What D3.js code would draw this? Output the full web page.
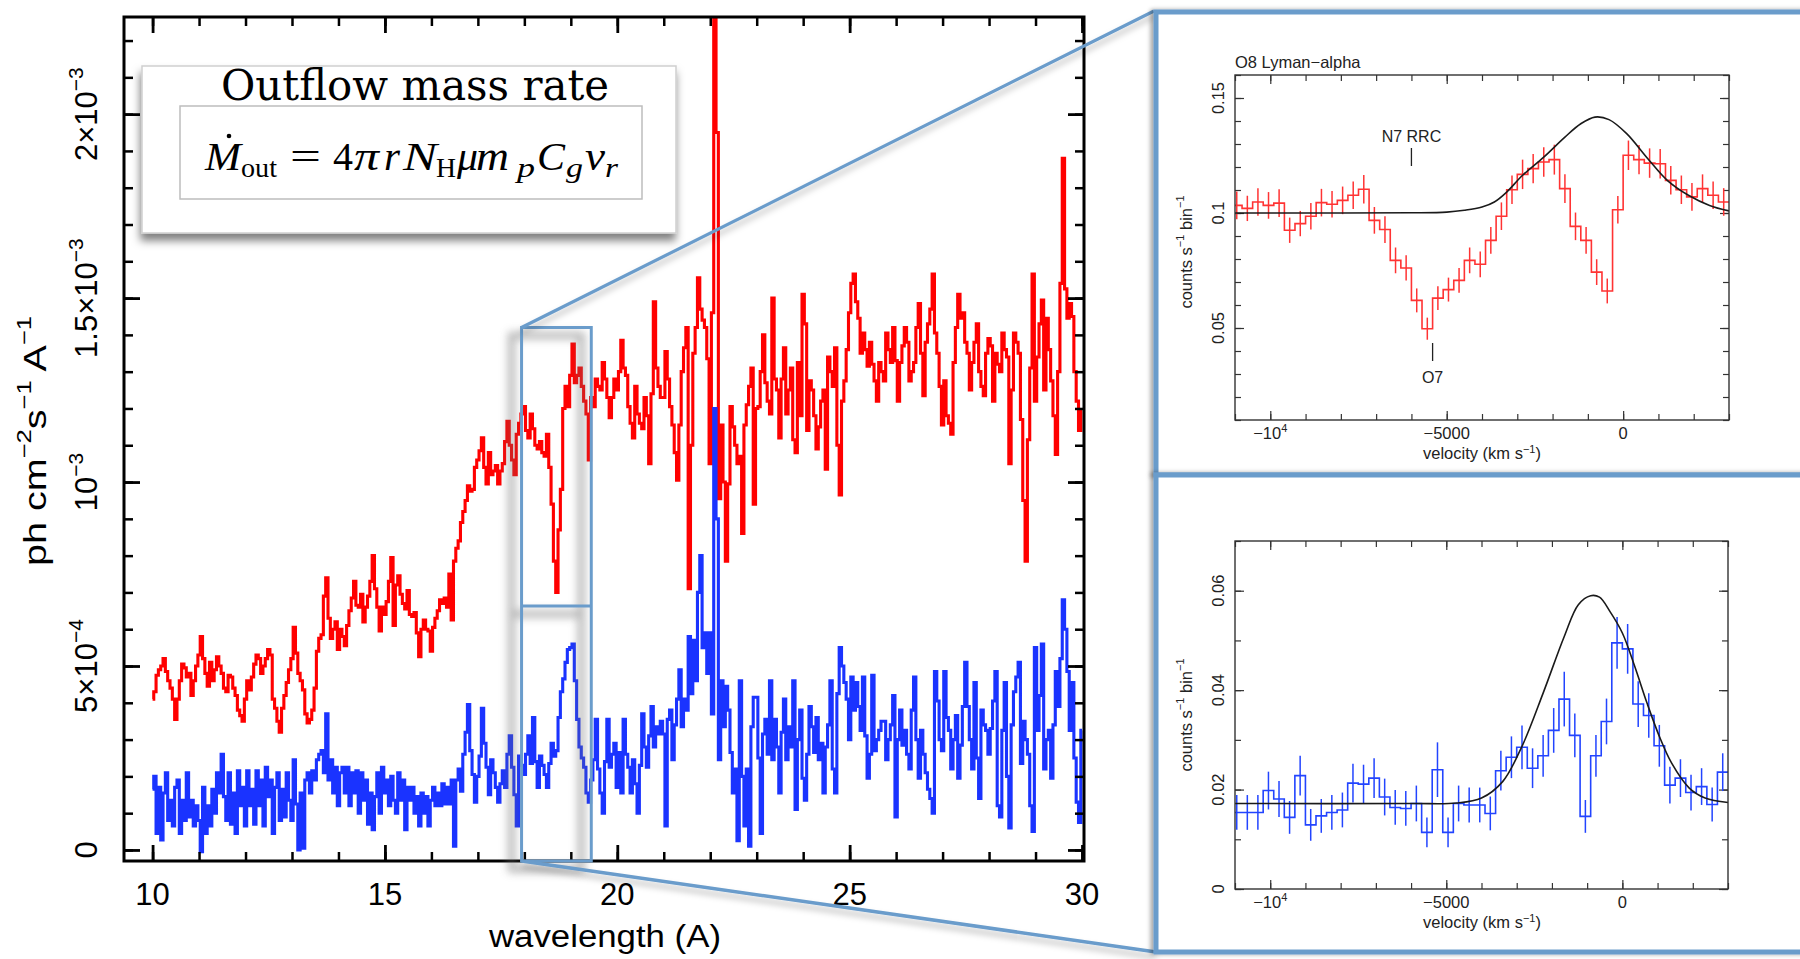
<!DOCTYPE html>
<html><head><meta charset="utf-8">
<script src="https://cdn.jsdelivr.net/npm/d3@7"></script>
<style>body{margin:0;background:#fff}svg{display:block}</style>
</head><body>
<svg id="c" width="1800" height="959"></svg>
<script>
// ---------------- DATA ----------------
// Main spectrum: wavelength grid start/step (Angstrom); flux in units of 1e-4 ph cm^-2 s^-1 A^-1
const wlStart = 10, wlStep = 0.05;
const redFlux = [
 4.1,4.3,4.75,4.9,5.0,5.2,4.85,4.6,4.4,4.1,3.55,4.1,4.6,5.05,4.95,4.7,4.8,4.2,4.6,5.0,
 5.3,5.8,5.2,4.8,4.45,5.1,4.6,4.9,5.25,5.0,4.8,4.4,4.3,4.75,4.7,4.4,4.2,3.8,3.65,3.5,
 4.1,4.6,4.35,4.7,5.05,5.3,5.2,4.8,5.0,5.2,5.45,5.3,4.1,3.85,3.5,3.2,3.85,4.2,4.55,4.9,
 5.2,6.05,5.35,4.8,4.6,4.35,3.7,3.45,3.55,3.8,4.4,5.4,5.75,5.85,6.9,7.4,6.3,5.75,6.0,6.2,
 5.45,6.0,5.8,5.55,6.1,6.5,6.85,7.3,6.65,6.6,6.95,6.2,6.6,6.9,7.3,8.0,7.1,6.6,5.95,6.6,
 6.4,6.75,7.3,7.95,6.1,7.2,7.45,6.95,6.7,6.55,7.05,6.4,6.35,6.45,5.9,5.25,6.0,6.25,6.0,5.95,
 5.4,6.05,6.3,6.5,6.8,6.7,6.85,6.6,7.5,6.25,7.85,8.2,8.4,8.9,9.2,9.5,9.9,9.75,9.8,10.4,
 10.6,10.85,11.2,10.4,9.95,10.8,10.2,10.3,10.45,9.95,10.3,10.5,11.1,11.65,11.0,10.6,10.2,11.3,11.6,11.85,
 12.05,11.4,11.2,11.85,11.45,11.0,10.9,11.1,10.8,10.7,11.3,10.4,9.4,7.85,7.0,8.7,9.8,12.0,12.6,12.05,
 12.9,13.75,12.7,12.9,13.1,12.6,12.2,11.85,10.6,12.3,12.05,12.8,12.6,12.5,13.25,12.8,12.3,11.75,12.3,12.8,
 12.5,13.0,13.85,13.1,12.9,12.05,11.6,11.2,12.6,11.85,11.6,11.45,12.3,11.8,10.5,12.4,14.9,13.1,12.6,12.3,
 12.3,13.55,12.8,12.05,11.55,10.8,10.05,11.55,13.0,13.65,14.2,7.1,11.0,13.5,14.2,15.55,14.7,14.4,14.2,13.35,
 10.5,14.6,23.0,19.5,9.55,11.55,10.0,7.85,9.95,12.05,11.5,11.0,10.5,10.7,8.6,11.55,12.1,12.6,13.1,9.4,
 12.0,12.05,13.0,14.0,12.7,12.2,11.85,15.0,12.8,12.5,11.2,12.8,13.65,11.85,12.5,13.1,11.15,10.8,13.25,11.8,
 15.1,14.3,11.4,12.75,12.5,11.8,10.9,11.5,12.2,12.5,10.35,13.4,13.0,12.6,13.65,11.0,9.65,12.2,12.75,13.6,
 14.6,15.4,15.65,14.9,14.45,13.5,14.05,13.6,13.15,13.8,13.2,12.75,12.2,13.25,13.0,12.75,14.05,13.6,13.25,14.2,
 13.3,12.2,13.25,13.7,14.2,13.8,12.75,13.0,13.25,14.2,14.85,13.5,12.35,13.8,14.3,14.7,15.65,14.05,13.5,12.6,
 11.55,12.75,11.8,11.6,11.3,13.25,14.2,15.1,14.45,14.6,13.8,13.5,12.5,13.25,13.8,14.3,13.0,12.6,12.35,13.5,
 13.9,13.7,12.2,13.5,13.2,13.0,14.05,13.6,13.4,10.5,12.5,14.05,13.8,13.5,11.7,9.5,7.85,11.15,13.1,15.65,
 12.2,13.4,14.3,14.95,12.5,14.45,13.6,12.75,11.8,10.75,13.0,15.4,18.8,15.25,14.45,14.85,14.5,13.0,12.2,11.4,
 11.95
];
const blueFlux = [
 1.65,2.0,0.45,1.7,0.27,1.55,2.1,0.8,1.35,0.65,1.7,1.9,0.45,1.35,0.8,2.1,0.9,1.35,0.65,1.2,
 0.8,-0.05,1.7,0.45,1.2,0.65,1.65,1.0,2.1,1.55,2.6,1.45,0.8,2.1,0.7,1.55,0.45,2.15,1.2,1.7,
 0.65,2.15,1.2,1.65,0.7,2.15,1.2,1.9,0.65,2.25,1.45,1.9,0.45,1.7,2.1,0.8,1.65,0.9,2.1,1.35,
 0.8,2.45,1.25,0.0,1.55,0.05,1.9,2.1,1.55,2.15,1.9,2.45,2.6,2.7,2.1,3.7,1.9,2.45,1.55,2.25,
 1.2,2.1,2.25,1.55,2.25,1.2,2.1,1.55,2.15,1.0,2.1,1.35,1.9,0.7,1.55,0.55,1.45,2.1,1.0,2.25,
 1.55,1.9,1.2,2.0,1.35,1.0,2.1,1.35,1.9,0.55,1.7,1.35,1.7,1.0,1.45,0.65,1.55,1.0,1.45,0.65,
 1.35,1.7,1.2,1.55,1.2,1.8,1.25,1.7,1.25,1.9,0.1,1.9,2.2,1.6,2.6,3.2,3.95,2.7,2.05,1.3,
 2.0,2.55,3.85,2.9,2.25,1.5,2.45,2.1,1.7,1.3,1.8,2.15,1.7,2.6,3.1,2.25,1.5,0.65,2.55,2.3,
 2.05,2.6,3.1,2.35,3.6,2.4,1.7,2.55,2.3,2.05,1.7,2.35,2.9,2.55,2.7,3.6,4.3,4.65,5.1,5.45,
 5.5,5.6,4.6,3.55,2.8,2.5,2.25,1.55,1.3,1.9,2.45,3.55,2.2,1.55,1.0,2.4,3.55,2.25,2.6,2.9,
 1.7,2.65,1.55,3.55,2.6,2.25,1.55,2.45,1.8,1.0,2.3,3.7,2.8,2.25,3.1,3.9,2.8,3.35,3.15,3.5,
 3.15,0.65,3.55,3.8,2.45,3.4,4.1,4.9,3.35,4.1,3.8,5.8,4.25,5.7,4.6,7.0,8.0,5.5,5.9,4.8,
 5.9,3.7,12.0,9.0,2.45,4.6,3.35,4.45,3.8,2.65,1.55,2.2,0.25,4.6,2.0,0.65,2.2,0.1,3.35,4.15,
 4.15,2.5,0.45,3.15,3.55,2.6,4.6,2.45,3.55,2.8,1.55,3.2,4.1,2.45,3.35,2.8,4.6,1.1,3.0,3.8,
 1.95,1.35,2.6,3.9,3.35,2.65,3.6,2.45,2.9,1.55,2.8,3.4,4.6,2.2,1.55,4.25,5.5,5.0,4.55,4.1,
 3.0,4.7,3.8,4.55,3.9,3.25,4.7,3.1,1.95,2.6,4.75,2.7,3.0,3.25,3.5,3.5,2.45,3.0,3.4,4.2,
 0.9,3.0,3.8,2.85,3.25,2.6,2.2,3.8,4.7,3.0,1.95,3.25,2.6,2.1,1.65,1.4,1.0,4.85,4.05,3.0,
 2.7,4.85,3.6,3.25,2.2,3.0,3.65,1.95,2.85,3.9,5.1,3.9,3.0,2.2,4.55,2.5,1.4,3.8,3.4,3.25,
 2.6,3.3,4.05,4.85,1.2,0.9,3.25,4.55,2.0,0.6,3.4,4.3,4.7,5.1,2.35,3.5,3.0,2.6,1.2,0.5,
 5.5,3.25,4.2,5.6,2.2,3.0,3.25,1.95,3.4,4.85,3.9,5.2,6.8,6.0,4.85,3.25,4.55,2.5,1.3,0.75,
 3.25
];
const xMajor = [10, 15, 20, 25, 30];
const xMinor = [10,11,12,13,14,15,16,17,18,19,20,21,22,23,24,25,26,27,28,29,30];
const yMajor = [0, 5, 10, 15, 20];
const yMinor = [0,1,2,3,4,5,6,7,8,9,10,11,12,13,14,15,16,17,18,19,20,21,22];
const yTickLabels = [["0",""],["5×10","−4"],["10","−3"],["1.5×10","−3"],["2×10","−3"]];
const zoomBox = {wlMin: 17.94, wlMax: 19.44, fluxTop: 14.2, fluxMid: 6.63};

// Insets: velocity bins (km/s), 300 km/s wide, first bin starts at -11100
const velBinStart = -11100, velBinWidth = 300;
const velDomain = [-11000, 3000];
const velMinor = [-11000,-10000,-9000,-8000,-7000,-6000,-5000,-4000,-3000,-2000,-1000,0,1000,2000,3000];
const velMajor = [-10000, -5000, 0];
const velLabels = [[-10000,"−10","4"],[-5000,"−5000",""],[0,"0",""]];
const o8Counts = [0.1033,0.102,0.1048,0.1033,0.1043,0.0925,0.0954,0.0986,0.1045,0.1038,
 0.1055,0.1077,0.1103,0.0968,0.0928,0.0794,0.0761,0.062,0.0497,0.063,
 0.0667,0.0707,0.0794,0.0777,0.0881,0.0986,0.1101,0.1168,0.1193,0.1222,
 0.1232,0.1106,0.0942,0.0881,0.0743,0.0661,0.1014,0.1251,0.1232,0.1217,
 0.1214,0.1142,0.1101,0.107,0.1106,0.1077,0.1048];
const o8Err = [0.006,0.0055,0.006,0.0058,0.006,0.0055,0.0055,0.0058,0.006,0.0058,
 0.006,0.006,0.0062,0.0058,0.0058,0.0056,0.0055,0.0052,0.0048,0.0052,
 0.0052,0.0054,0.0056,0.0056,0.0058,0.006,0.0062,0.0064,0.0064,0.0064,
 0.0065,0.0062,0.006,0.0058,0.0056,0.0054,0.006,0.0064,0.0064,0.0064,
 0.0064,0.0062,0.0062,0.006,0.0062,0.006,0.006];
const o8Model = [[-11000,0.1],[-8000,0.1],[-6000,0.1001],[-5000,0.1004],[-4500,0.1012],[-4000,0.1026],
 [-3650,0.1048],[-3300,0.1091],[-2850,0.1164],[-2250,0.1243],[-1650,0.133],[-1200,0.1388],[-800,0.1417],
 [-400,0.1406],[100,0.1345],[700,0.1236],[1250,0.1142],[1850,0.1077],[2450,0.1033],[3000,0.1009]];
const blueCounts = [0.0154,0.0154,0.0154,0.0198,0.0181,0.0144,0.0228,0.0129,0.0147,0.0154,
 0.0159,0.0213,0.0211,0.0223,0.0185,0.0164,0.0162,0.0172,0.0114,0.024,
 0.0114,0.0172,0.0169,0.0169,0.0152,0.0238,0.0265,0.0285,0.0243,0.0268,
 0.0319,0.0382,0.0309,0.0146,0.0268,0.0337,0.0495,0.0483,0.0372,0.0349,
 0.0288,0.0209,0.0223,0.0194,0.0206,0.017,0.0235];
const blueErr = [0.0035,0.0035,0.0035,0.0038,0.0036,0.0033,0.004,0.0032,0.0034,0.0035,
 0.0035,0.0039,0.0039,0.004,0.0037,0.0035,0.0035,0.0036,0.003,0.0055,
 0.003,0.0036,0.0035,0.0035,0.0034,0.004,0.0042,0.0044,0.004,0.0042,
 0.0045,0.0055,0.0044,0.0033,0.0042,0.0046,0.0052,0.005,0.0046,0.0045,
 0.0042,0.0037,0.0038,0.0036,0.0037,0.0034,0.0038];
const blueModel = [[-11000,0.0172],[-6000,0.0172],[-4700,0.0173],[-4000,0.0183],[-3400,0.0216],
 [-2850,0.0287],[-2250,0.0394],[-1650,0.0508],[-1250,0.0572],[-900,0.059],[-650,0.0587],[-350,0.0558],
 [0,0.0515],[350,0.0448],[700,0.0374],[1050,0.0307],[1400,0.0253],[1900,0.0203],[2350,0.0183],[3000,0.0174]];

// ---------------- DRAWING ----------------
const FONT = "Liberation Sans, Arial, Helvetica, sans-serif";
const svg = d3.select("#c");
const defs = svg.append("defs");
function dropShadow(id, dx, dy, sd, op){
  const f = defs.append("filter").attr("id",id).attr("filterUnits","userSpaceOnUse")
    .attr("x",0).attr("y",0).attr("width",1800).attr("height",959);
  f.append("feDropShadow").attr("dx",dx).attr("dy",dy).attr("stdDeviation",sd)
    .attr("flood-color","#000").attr("flood-opacity",op);
}
dropShadow("boxShadow",-1,7,4,0.5);
dropShadow("lineShadow",0,5,3,0.28);
dropShadow("panelShadow",-3,0,2,0.35);
const blurF = defs.append("filter").attr("id","blur").attr("filterUnits","userSpaceOnUse")
  .attr("x",0).attr("y",0).attr("width",1800).attr("height",959);
blurF.append("feGaussianBlur").attr("stdDeviation",4);

// ----- main panel -----
const M = {l:124, r:1084, t:17, b:861};
const x = d3.scaleLinear().domain([9.385, 30.043]).range([M.l, M.r]);
const y = d3.scaleLinear().domain([-0.3, 22.64]).range([M.b, M.t]);
defs.append("clipPath").attr("id","mainClip").append("rect")
  .attr("x",M.l).attr("y",M.t).attr("width",M.r-M.l).attr("height",M.b-M.t);

const specLine = d3.line().x(d=>x(d[0])).y(d=>y(d[1])).curve(d3.curveStep);
const gSpec = svg.append("g").attr("clip-path","url(#mainClip)");
gSpec.append("path").datum(redFlux.map((v,i)=>[wlStart+i*wlStep, v]))
  .attr("d",specLine).attr("fill","none").attr("stroke","#ff0000").attr("stroke-width",3.1);
gSpec.append("path").datum(blueFlux.map((v,i)=>[wlStart+i*wlStep, v]))
  .attr("d",specLine).attr("fill","none").attr("stroke","#1a33ff").attr("stroke-width",3.1);

function styleAxis(sel, w, col){ sel.select(".domain").remove(); sel.selectAll(".tick line").attr("stroke",col||"#000").attr("stroke-width",w); return sel; }
const gAx = svg.append("g");
styleAxis(gAx.append("g").attr("transform",`translate(0,${M.b})`).call(d3.axisBottom(x).tickValues(xMinor).tickSize(-9).tickFormat("")),2.5);
styleAxis(gAx.append("g").attr("transform",`translate(0,${M.b})`).call(d3.axisBottom(x).tickValues(xMajor).tickSize(-16).tickFormat("")),2.8);
styleAxis(gAx.append("g").attr("transform",`translate(0,${M.t})`).call(d3.axisTop(x).tickValues(xMinor).tickSize(-9).tickFormat("")),2.5);
styleAxis(gAx.append("g").attr("transform",`translate(0,${M.t})`).call(d3.axisTop(x).tickValues(xMajor).tickSize(-16).tickFormat("")),2.8);
styleAxis(gAx.append("g").attr("transform",`translate(${M.l},0)`).call(d3.axisLeft(y).tickValues(yMinor).tickSize(-9).tickFormat("")),2.5);
styleAxis(gAx.append("g").attr("transform",`translate(${M.l},0)`).call(d3.axisLeft(y).tickValues(yMajor).tickSize(-16).tickFormat("")),2.8);
styleAxis(gAx.append("g").attr("transform",`translate(${M.r},0)`).call(d3.axisRight(y).tickValues(yMinor).tickSize(-9).tickFormat("")),2.5);
styleAxis(gAx.append("g").attr("transform",`translate(${M.r},0)`).call(d3.axisRight(y).tickValues(yMajor).tickSize(-16).tickFormat("")),2.8);
gAx.append("rect").attr("x",M.l).attr("y",M.t).attr("width",M.r-M.l).attr("height",M.b-M.t)
  .attr("fill","none").attr("stroke","#000").attr("stroke-width",3);

// x tick labels
xMajor.forEach(v=>{
  svg.append("text").attr("x",x(v)).attr("y",905).attr("text-anchor","middle")
    .attr("font-family",FONT).attr("font-size",31).attr("fill","#000").text(v);
});
svg.append("text").attr("x",605).attr("y",947).attr("text-anchor","middle")
  .attr("font-family",FONT).attr("font-size",31).attr("textLength",232).attr("lengthAdjust","spacingAndGlyphs")
  .attr("fill","#000").text("wavelength (A)");
// y tick labels (rotated)
yMajor.forEach((v,i)=>{
  const t = svg.append("text").attr("transform",`translate(86,${y(v)}) rotate(-90)`)
    .attr("text-anchor","middle").attr("dominant-baseline","central")
    .attr("font-family",FONT).attr("font-size",31).attr("fill","#000");
  t.append("tspan").text(yTickLabels[i][0]);
  if (yTickLabels[i][1]) t.append("tspan").attr("dy",-11).attr("font-size",21).text(yTickLabels[i][1]);
});
// y title
{
  const t = svg.append("text").attr("transform","translate(35,441) rotate(-90)")
    .attr("text-anchor","middle").attr("dominant-baseline","central")
    .attr("font-family",FONT).attr("font-size",31).attr("fill","#000")
    .attr("textLength",250).attr("lengthAdjust","spacingAndGlyphs");
  t.append("tspan").text("ph cm");
  t.append("tspan").attr("dy",-11).attr("font-size",20).text("−2");
  t.append("tspan").attr("dy",11).text("s");
  t.append("tspan").attr("dy",-11).attr("font-size",20).text("−1");
  t.append("tspan").attr("dy",11).text(" A");
  t.append("tspan").attr("dy",-11).attr("font-size",20).text("−1");
}

// ----- formula box -----
svg.append("rect").attr("x",142).attr("y",66).attr("width",534).attr("height",167)
  .attr("fill","#fff").attr("stroke","#cfcfcf").attr("stroke-width",1.5).attr("filter","url(#boxShadow)");
svg.append("rect").attr("x",180).attr("y",106).attr("width",462).attr("height",93)
  .attr("fill","#fff").attr("stroke","#bdbdbd").attr("stroke-width",1.5);
svg.append("text").attr("x",221).attr("y",100).attr("font-family","DejaVu Serif, Liberation Serif, serif")
  .attr("font-size",43).attr("textLength",388).attr("lengthAdjust","spacingAndGlyphs")
  .attr("fill","#000").text("Outflow mass rate");
{
  const parts = [
    {t:"M",x:205,w:36,it:1},{t:"out",x:241,w:36,sub:1},{t:"=",x:290,w:31},{t:"4",x:333,w:20},{t:"π",x:354,w:25,it:1},
    {t:"r",x:384,w:16,it:1},{t:"N",x:403,w:34,it:1},{t:"H",x:436,w:20,sub:1},{t:"μ",x:457,w:21,it:1},{t:"m",x:476,w:33,it:1},
    {t:"p",x:517,w:18,sub:1,it:1},{t:"C",x:537,w:28,it:1},{t:"g",x:566,w:17,sub:1,it:1},{t:"v",x:585,w:20,it:1},{t:"r",x:605,w:13,sub:1,it:1}
  ];
  const gf = svg.append("g").attr("font-family","Liberation Serif, Times New Roman, serif").attr("fill","#000");
  parts.forEach(p=>{
    gf.append("text").attr("x",p.x).attr("y",p.sub?177:170)
      .attr("font-size",p.sub?28:39).attr("font-style",p.it?"italic":"normal")
      .attr("textLength",p.w).attr("lengthAdjust","spacingAndGlyphs").text(p.t);
  });
  svg.append("circle").attr("cx",229).attr("cy",136).attr("r",2.3).attr("fill","#000");
}

// ----- zoom box & connecting lines -----
const BLUE = "#6a9ccb";
const zx0 = x(zoomBox.wlMin), zx1 = x(zoomBox.wlMax), zyT = y(zoomBox.fluxTop), zyM = y(zoomBox.fluxMid);
const boxPath = `M${zx0},${zyT}H${zx1}V${M.b}H${zx0}Z M${zx0},${zyM}H${zx1}`;
svg.append("path").attr("d",boxPath).attr("transform","translate(-10,8)").attr("fill","none")
  .attr("stroke","#6e6e6e").attr("stroke-width",7).attr("opacity",0.5).attr("filter","url(#blur)");
svg.append("path").attr("d",boxPath).attr("fill","none").attr("stroke",BLUE).attr("stroke-width",3);
svg.append("line").attr("x1",zx0).attr("y1",zyT).attr("x2",1154).attr("y2",11)
  .attr("stroke",BLUE).attr("stroke-width",3.2).attr("filter","url(#lineShadow)");
svg.append("line").attr("x1",zx0).attr("y1",M.b).attr("x2",1156).attr("y2",952)
  .attr("stroke",BLUE).attr("stroke-width",3.6).attr("filter","url(#lineShadow)");

// ----- right panels -----
svg.append("rect").attr("x",1156).attr("y",12).attr("width",700).attr("height",463)
  .attr("fill","#fff").attr("stroke",BLUE).attr("stroke-width",5).attr("filter","url(#panelShadow)");
svg.append("rect").attr("x",1156).attr("y",475).attr("width",700).attr("height",477)
  .attr("fill","#fff").attr("stroke",BLUE).attr("stroke-width",5).attr("filter","url(#panelShadow)");

function drawInset(o){
  const xs = d3.scaleLinear().domain(velDomain).range([o.L,o.R]);
  const ys = d3.scaleLinear().domain(o.yDomain).range([o.B,o.T]);
  const g = svg.append("g").attr("font-family",FONT).attr("fill","#222");
  const cid = "clip"+o.id;
  defs.append("clipPath").attr("id",cid).append("rect").attr("x",o.L).attr("y",o.T).attr("width",o.R-o.L).attr("height",o.B-o.T);
  const tk = (axis,tr)=>styleAxis(g.append("g").attr("transform",tr).call(axis),1.2,"#333");
  tk(d3.axisBottom(xs).tickValues(velMinor).tickSize(-6).tickFormat(""),`translate(0,${o.B})`);
  tk(d3.axisTop(xs).tickValues(velMinor).tickSize(-6).tickFormat(""),`translate(0,${o.T})`);
  tk(d3.axisBottom(xs).tickValues(velMajor).tickSize(-9).tickFormat(""),`translate(0,${o.B})`);
  tk(d3.axisTop(xs).tickValues(velMajor).tickSize(-9).tickFormat(""),`translate(0,${o.T})`);
  tk(d3.axisLeft(ys).tickValues(o.yMinor).tickSize(-6).tickFormat(""),`translate(${o.L},0)`);
  tk(d3.axisRight(ys).tickValues(o.yMinor).tickSize(-6).tickFormat(""),`translate(${o.R},0)`);
  tk(d3.axisLeft(ys).tickValues(o.yMajor).tickSize(-9).tickFormat(""),`translate(${o.L},0)`);
  tk(d3.axisRight(ys).tickValues(o.yMajor).tickSize(-9).tickFormat(""),`translate(${o.R},0)`);

  const gd = g.append("g").attr("clip-path",`url(#${cid})`);
  const pts = o.counts.map((v,i)=>[velBinStart+i*velBinWidth, v]);
  pts.push([velBinStart+o.counts.length*velBinWidth, o.counts[o.counts.length-1]]);
  gd.append("path").datum(pts).attr("d",d3.line().x(d=>xs(d[0])).y(d=>ys(d[1])).curve(d3.curveStepAfter))
    .attr("fill","none").attr("stroke",o.color).attr("stroke-width",1.6);
  gd.selectAll("line.err").data(o.counts).join("line").attr("class","err")
    .attr("x1",(d,i)=>xs(velBinStart+(i+0.5)*velBinWidth)).attr("x2",(d,i)=>xs(velBinStart+(i+0.5)*velBinWidth))
    .attr("y1",(d,i)=>ys(d-o.err[i])).attr("y2",(d,i)=>ys(d+o.err[i]))
    .attr("stroke",o.color).attr("stroke-width",1.5);
  gd.append("path").datum(o.model).attr("d",d3.line().x(d=>xs(d[0])).y(d=>ys(d[1])).curve(d3.curveCatmullRom))
    .attr("fill","none").attr("stroke","#1a1a1a").attr("stroke-width",1.6);

  g.append("rect").attr("x",o.L).attr("y",o.T).attr("width",o.R-o.L).attr("height",o.B-o.T)
    .attr("fill","none").attr("stroke","#333").attr("stroke-width",1.4);
  velLabels.forEach(([v,m,s])=>{
    const t = g.append("text").attr("x",xs(v)).attr("y",o.B+19).attr("text-anchor","middle").attr("font-size",16.5);
    t.append("tspan").text(m);
    if (s) t.append("tspan").attr("dy",-7).attr("font-size",11).text(s);
  });
  {
    const t = g.append("text").attr("x",1482).attr("y",o.B+39).attr("text-anchor","middle").attr("font-size",16.5);
    t.append("tspan").text("velocity (km s");
    t.append("tspan").attr("dy",-6).attr("font-size",11).text("−1");
    t.append("tspan").attr("dy",6).text(")");
  }
  o.yLabels.forEach(([v,s])=>{
    g.append("text").attr("transform",`translate(1218,${ys(v)}) rotate(-90)`).attr("text-anchor","middle")
      .attr("dominant-baseline","central").attr("font-size",16.5).text(s);
  });
  {
    const t = g.append("text").attr("transform",`translate(1186,${o.yTitleY}) rotate(-90)`).attr("text-anchor","middle")
      .attr("dominant-baseline","central").attr("font-size",16.5);
    t.append("tspan").text("counts s");
    t.append("tspan").attr("dy",-6).attr("font-size",11).text("−1");
    t.append("tspan").attr("dy",6).text(" bin");
    t.append("tspan").attr("dy",-6).attr("font-size",11).text("−1");
  }
  if (o.title) g.append("text").attr("x",o.L).attr("y",o.T-7).attr("font-size",16.5).text(o.title);
  return {xs, ys, g};
}

const topInset = drawInset({id:"top", L:1235, R:1729, T:75, B:420, yDomain:[0.01,0.16],
  yMinor:[0.01,0.02,0.03,0.04,0.05,0.06,0.07,0.08,0.09,0.1,0.11,0.12,0.13,0.14,0.15,0.16],
  yMajor:[0.05,0.1,0.15], yLabels:[[0.05,"0.05"],[0.1,"0.1"],[0.15,"0.15"]],
  counts:o8Counts, err:o8Err, model:o8Model, color:"#ff3333", yTitleY:252, title:"O8 Lyman−alpha"});
const annotations = [{v:-6000, label:"N7 RRC", ty:142, y1:148, y2:166}, {v:-5400, label:"O7", ty:383, y1:343, y2:361}];
annotations.forEach(a=>{
  topInset.g.append("line").attr("x1",topInset.xs(a.v)).attr("x2",topInset.xs(a.v)).attr("y1",a.y1).attr("y2",a.y2)
    .attr("stroke","#222").attr("stroke-width",1.3);
  topInset.g.append("text").attr("x",topInset.xs(a.v)).attr("y",a.ty).attr("text-anchor","middle").attr("font-size",16).text(a.label);
});

drawInset({id:"bot", L:1235, R:1728, T:541, B:889, yDomain:[0,0.07],
  yMinor:[0,0.01,0.02,0.03,0.04,0.05,0.06,0.07], yMajor:[0,0.02,0.04,0.06],
  yLabels:[[0,"0"],[0.02,"0.02"],[0.04,"0.04"],[0.06,"0.06"]],
  counts:blueCounts, err:blueErr, model:blueModel, color:"#2244ff", yTitleY:715, title:null});
</script>
</body></html>
